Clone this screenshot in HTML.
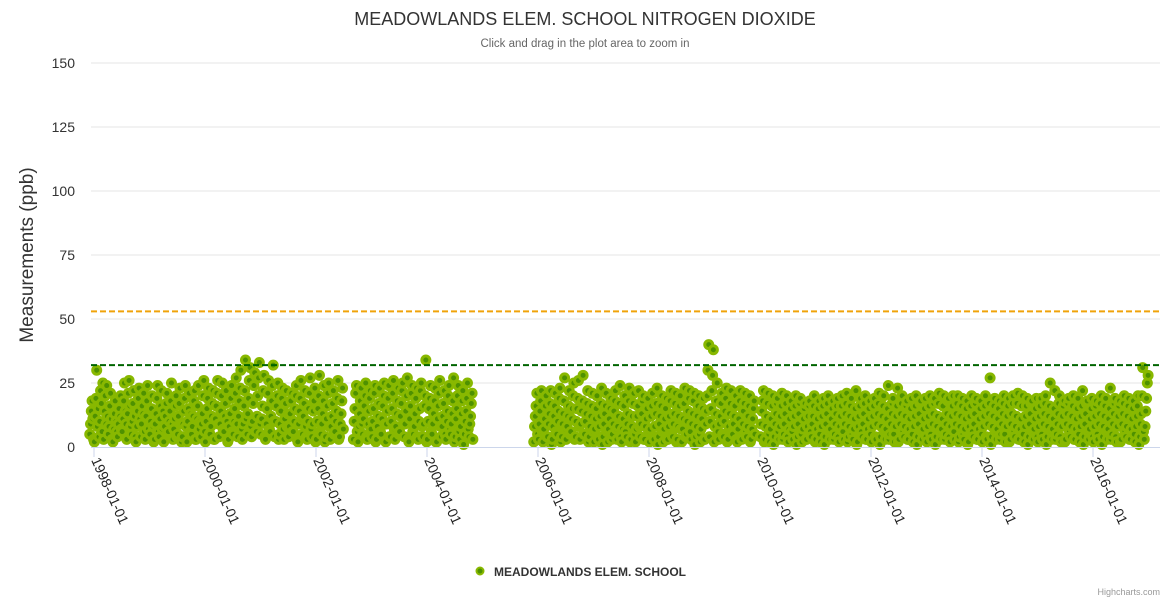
<!DOCTYPE html>
<html><head><meta charset="utf-8">
<style>
html,body{margin:0;padding:0;background:#fff;}
svg{display:block;font-family:"Liberation Sans",sans-serif;}
</style></head>
<body>
<svg id="chart" width="1170" height="600" viewBox="0 0 1170 600">
<text x="585" y="25" text-anchor="middle" font-size="18" fill="#333">MEADOWLANDS ELEM. SCHOOL NITROGEN DIOXIDE</text>
<text x="585" y="47" text-anchor="middle" font-size="11.5" fill="#666">Click and drag in the plot area to zoom in</text>
<text transform="translate(33,255) rotate(-90)" text-anchor="middle" font-size="19" fill="#333">Measurements (ppb)</text>
<g id="grid"></g>
<g id="points"></g>
<g id="plotlines"></g>
<g id="xaxis"></g>
<g>
<circle cx="480" cy="571" r="3.5" fill="#4e9100" stroke="#88b800" stroke-width="2"/>
<text x="494" y="576" font-size="12" font-weight="bold" fill="#333">MEADOWLANDS ELEM. SCHOOL</text>
</g>
<text x="1160" y="595" text-anchor="end" font-size="9" fill="#999">Highcharts.com</text>
</svg>
<script>
const yTicks = [0,25,50,75,100,125,150];
const xTickYears = [1998,2000,2002,2004,2006,2008,2010,2012,2014,2016];
const plotLineValues = [53,32];
const plotLineColors = ["#f0a30a","#006400"];
const startMonth = [1997,12];
const values = [
[5,9,14,18,11,3],
[2,12,19,30,8,15],[4,10,22,17,6,25],[3,14,20,9,24,12],[5,8,16,21,11,3],[2,7,13,18,10,6],[4,9,15,12,20,7],[6,11,18,25,14,9],[3,13,21,26,16,8],[5,10,17,22,12,4],[2,8,14,19,23,11],[4,9,16,13,21,6],[3,12,18,24,7,15],
[5,10,15,20,8,2],[3,9,13,19,24,6],[4,11,16,22,7,14],[2,8,12,17,21,5],[6,10,14,18,25,9],[3,7,11,16,20,4],[5,12,17,23,9,2],[4,9,14,19,24,8],[2,10,15,21,6,13],[5,8,12,18,22,3],[3,11,16,24,7,10],[4,9,13,20,26,6],
[2,10,15,19,23,5],[5,8,12,17,22,3],[3,11,16,21,26,9],[4,9,14,20,25,7],[6,12,17,22,10,2],[3,8,13,19,24,6],[5,10,15,21,27,9],[4,12,18,23,30,7],[3,9,16,22,34,11],[5,13,19,26,31,8],[4,10,17,24,29,6],[6,12,20,27,33,9],
[5,11,16,22,28,4],[3,9,15,21,26,7],[6,12,18,24,32,10],[4,10,16,20,25,3],[5,9,14,19,23,7],[3,11,17,22,8,13],[4,8,13,18,21,6],[6,10,15,20,24,3],[2,9,14,19,26,11],[5,12,17,22,8,4],[3,10,15,21,27,7],[4,9,14,18,23,2],
[3,10,15,20,28,6],[5,9,13,18,24,2],[4,11,16,21,25,8],[3,8,12,17,22,5],[6,10,14,19,26,3],[4,9,13,18,23,7],[],[],[3,10,15,21,24,6],[2,8,13,18,23,9],[5,11,16,20,25,4],[3,9,14,19,22,7],
[4,10,15,21,24,2],[3,8,12,17,23,6],[5,11,16,20,25,9],[2,9,14,19,24,4],[4,10,15,21,26,7],[3,8,13,18,23,5],[6,12,17,22,25,9],[4,9,14,20,27,3],[2,11,16,21,24,6],[5,8,13,19,23,4],[3,10,15,22,25,8],[4,9,16,20,34,2],
[3,10,15,19,24,6],[5,9,13,18,23,2],[2,11,16,21,26,8],[4,8,12,17,22,5],[3,10,14,20,24,7],[5,9,13,18,27,2],[4,11,15,20,24,6],[3,8,13,18,22,1],[5,10,14,19,25,7],[4,9,12,17,21,3],[],[],
[],[],[],[],[],[],[],[],[],[],[],[2,8,12,16,21,5],
[3,9,14,18,22,6],[2,7,11,16,20,4],[4,9,13,17,22,1],[3,8,12,16,21,6],[5,10,14,19,23,2],[4,9,13,18,27,7],[3,8,12,16,22,5],[6,11,15,20,25,3],[4,10,15,19,26,8],[3,9,14,18,28,5],[5,10,13,17,22,2],[4,8,12,16,21,6],
[2,7,11,15,20,4],[3,8,12,17,23,1],[4,9,13,16,21,6],[2,7,11,15,19,3],[5,9,14,18,22,7],[3,8,12,17,24,4],[2,7,11,16,20,6],[4,9,13,18,23,2],[3,8,12,17,21,5],[2,7,12,16,22,8],[4,9,13,18,20,3],[3,8,11,15,19,6],
[2,7,12,16,21,4],[3,8,13,17,23,1],[4,9,12,16,20,6],[2,7,11,15,19,3],[3,8,12,18,22,5],[4,9,13,17,21,2],[3,8,12,16,20,7],[2,7,11,17,23,4],[5,10,14,19,22,6],[3,9,13,18,21,1],[4,8,12,16,20,5],[2,7,11,15,19,3],
[3,9,14,20,30,40],[4,10,15,22,28,38],[2,8,13,18,25,6],[3,9,12,17,21,5],[4,10,14,19,23,2],[3,8,13,17,22,6],[5,9,12,16,20,3],[2,7,11,18,22,4],[3,9,14,17,21,6],[4,8,12,16,20,2],[3,7,11,15,18,5],[],
[4,9,14,18,22,2],[3,8,12,17,21,5],[2,7,11,16,20,1],[4,9,13,17,19,6],[3,8,12,16,21,3],[5,9,13,17,20,4],[2,7,11,15,18,6],[3,8,12,16,20,1],[4,9,13,17,19,5],[2,7,11,15,17,3],[3,8,12,16,18,6],[4,9,12,16,20,2],
[3,7,11,15,18,5],[2,8,12,16,19,1],[4,9,13,17,20,6],[3,7,11,15,18,3],[5,9,13,16,19,4],[2,8,12,16,20,6],[3,9,13,17,21,2],[4,8,12,16,19,5],[3,7,11,15,22,1],[2,8,12,16,19,6],[4,9,13,17,20,3],[3,7,11,15,18,5],
[2,8,12,16,19,4],[3,9,13,17,21,1],[4,8,12,16,20,6],[3,7,11,15,24,3],[5,9,13,17,19,5],[2,8,12,16,23,2],[3,9,13,17,20,6],[4,8,12,16,18,3],[3,7,11,15,19,5],[2,8,12,16,20,1],[4,9,13,17,18,6],[3,7,11,15,19,4],
[2,8,12,16,20,5],[3,9,13,17,19,1],[4,8,12,17,21,6],[3,7,11,16,20,3],[5,9,13,18,19,4],[2,8,12,16,20,6],[3,9,13,17,20,2],[4,8,12,16,19,5],[3,7,11,15,18,1],[2,8,12,16,20,6],[4,9,13,17,19,3],[3,7,11,15,18,5],
[2,8,12,16,20,4],[3,9,13,17,27,1],[4,8,12,16,19,6],[3,7,11,15,18,3],[5,9,13,17,20,5],[2,8,12,16,19,2],[3,9,13,17,20,6],[4,8,12,17,21,3],[3,7,11,16,20,5],[2,8,12,16,19,1],[4,9,13,17,18,6],[3,7,11,15,19,4],
[2,8,12,16,19,5],[3,9,13,17,20,1],[4,8,12,16,25,6],[3,7,11,15,22,3],[5,9,13,17,20,4],[2,8,12,16,18,2],[3,9,13,17,19,6],[4,8,12,16,20,3],[3,7,11,15,19,5],[2,8,12,16,22,1],[4,9,13,17,18,6],[3,7,11,15,19,4],
[2,8,12,16,18,5],[3,9,13,17,20,1],[4,8,12,16,19,6],[3,7,11,15,23,3],[5,9,13,17,19,4],[2,8,12,16,18,2],[3,9,13,17,20,6],[4,8,12,16,19,3],[3,7,11,15,18,5],[2,8,12,16,20,1],[4,9,13,20,31,6],[3,8,14,19,25,28]
];
const NS="http://www.w3.org/2000/svg";
const L=91,R=1160,T=63,B=447;
function yScale(v){return B-(v/150)*(B-T);}
const x0=94,pxPerYear=55.5;
function xScale(yr){return x0+(yr-1998)*pxPerYear;}
function mk(tag,attrs,parent){const e=document.createElementNS(NS,tag);for(const k in attrs)e.setAttribute(k,attrs[k]);parent.appendChild(e);return e;}
const grid=document.getElementById('grid');
yTicks.forEach(t=>{
  const y=yScale(t);
  if(t>0){const ln=mk('line',{x1:L,x2:R,y1:y,y2:y,stroke:'#e6e6e6','stroke-width':1},grid);
  
  }
  const tx=mk('text',{x:75,y:y+5,'text-anchor':'end','font-size':14,fill:'#333'},grid);
  tx.textContent=t;
  
  
});
const xa=document.getElementById('xaxis');
const axl=mk('line',{x1:L,x2:R,y1:B+0.5,y2:B+0.5,stroke:'#ccd6eb','stroke-width':1},xa);


xTickYears.forEach(yr=>{
  const x=xScale(yr);
  mk('line',{x1:x,x2:x,y1:B,y2:B+10,stroke:'#ccd6eb','stroke-width':1},xa);
  const tx=mk('text',{transform:`translate(${x-3},${B+13}) rotate(66)`,'font-size':14,fill:'#222'},xa);
  tx.textContent=yr+'-01-01';
  
  
});
const pts=document.getElementById('points');
values.forEach((arr,mi)=>{
  const yr=startMonth[0]+(startMonth[1]-1+mi)/12;
  arr.forEach((v,i)=>{
    const x=xScale(yr+(i+0.5)/arr.length/12);
    const c=mk('circle',{cx:x,cy:yScale(v),r:4,fill:'#4e9100',stroke:'#88b800','stroke-width':3},pts);
    
    
  });
});
const pl=document.getElementById('plotlines');
plotLineValues.forEach((v,i)=>{
  const ln=mk('line',{x1:L,x2:R,y1:yScale(v),y2:yScale(v),stroke:plotLineColors[i],'stroke-width':2,'stroke-dasharray':'6,3'},pl);
  
  
});
</script>
</body></html>
